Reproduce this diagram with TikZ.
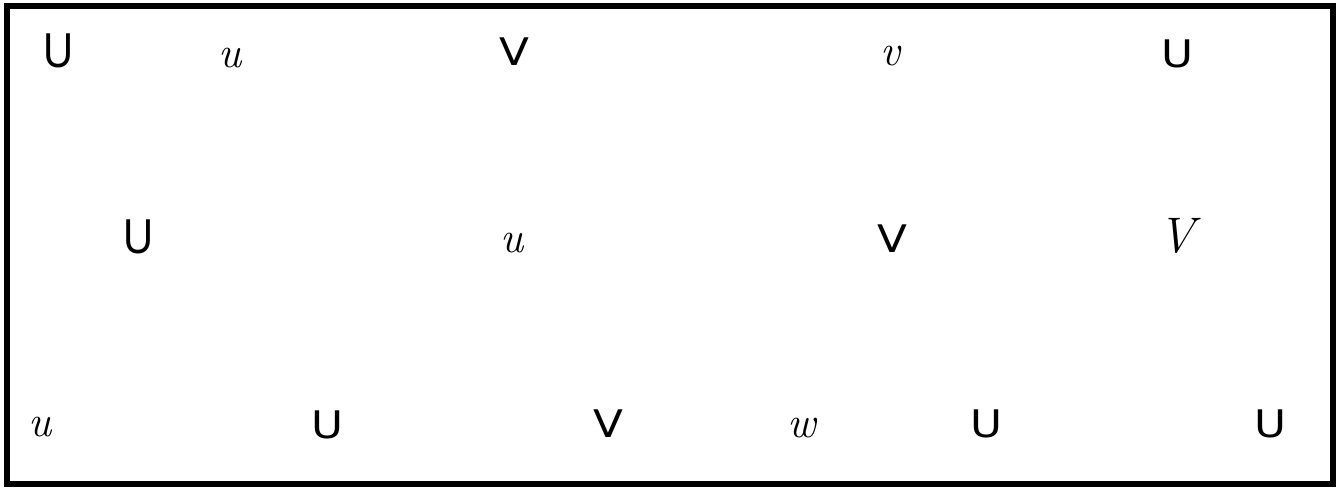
\documentclass[tikz,border=0pt]{standalone}
\usepackage{fontspec}
\newfontfamily\geofont{DejaVu Sans}
\newfontfamily\plainsans{Liberation Sans}
\newcommand{\narrowU}{\scalebox{0.85}[1]{U}}
\newcommand{\wide}[1]{\scalebox{1.15}[1]{#1}}

\begin{document}
\begin{tikzpicture}[x=1pt, y=-1pt, every node/.style={inner sep=0pt, 
        anchor=base},
        glyph/.style={font=\geofont\fontsize{38}{40}\selectfont},
        bigglyph/.style={font=\plainsans\fontsize{49}{52}\selectfont},
        cursive/.style={font=\itshape\fontsize{44}{48}\selectfont}]
        \useasboundingbox (0,0) rectangle (1341,488);
        \draw[line width=6pt] (7,5.5) rectangle (1333,484);

        % first row
        \node[bigglyph] (A1) at (59, 67) {\narrowU};
        \node[cursive] (B1) at (230, 67) {u};
        \node[glyph] (C1) at (514, 65) {\wide{V}};
        \node[cursive] (D1) at (890, 65) {v};
        \node[glyph] (E1) at (1177, 67) {\wide{U}};

        % second row
        \node[bigglyph] (A2) at (139, 253) {\narrowU};
        \node[cursive] (B2) at (512, 252) {u};
        \node[glyph] (C2) at (892, 252) {\wide{V}};
        \node[cursive, font=\itshape\fontsize{50}{54}\selectfont] (D2) at (1177, 252) {V};

        % third row
        \node[cursive] (A3) at (40, 436) {u};
        \node[glyph] (B3) at (327, 438) {\wide{U}};
        \node[glyph] (C3) at (608, 437) {\wide{V}};
        \node[cursive] (D3) at (802, 437) {w};
        \node[glyph] (E3) at (986, 437) {\wide{U}};
        \node[glyph] (F3) at (1270, 437) {\wide{U}};
    \end{tikzpicture}
\end{document}
